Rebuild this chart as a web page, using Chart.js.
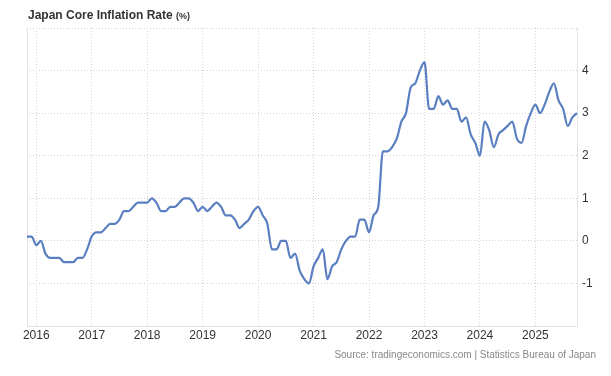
<!DOCTYPE html>
<html>
<head>
<meta charset="utf-8">
<script src="https://cdn.jsdelivr.net/npm/chart.js@4.4.1/dist/chart.umd.min.js"></script>
<style>
  html,body{margin:0;padding:0;background:#fff;}
  #wrap{position:relative;width:611px;height:376px;font-family:"Liberation Sans",Arial,sans-serif;}
  #title{position:absolute;left:28px;top:8px;font-size:12px;font-weight:bold;color:#333;white-space:nowrap;}
  #title span{font-size:9px;}
  #src{position:absolute;right:15px;top:349px;font-size:10px;color:#888;white-space:nowrap;}
  canvas{position:absolute;left:0;top:0;}
</style>
</head>
<body>
<div id="wrap">
  <canvas id="chart" width="611" height="376"></canvas>
  <div id="title">Japan Core Inflation Rate <span>(%)</span></div>
  <div id="src">Source: tradingeconomics.com | Statistics Bureau of Japan</div>
</div>
<script>
// monthly, Nov 2015 .. Oct 2025
const startYear = 2015, startMonth = 11;
const coreInflation = [
  0.1, 0.1,                                                         // 2015 Nov-Dec
  -0.1, 0.0, -0.3, -0.4, -0.4, -0.4, -0.5, -0.5, -0.5, -0.4, -0.4, -0.2, // 2016
  0.1, 0.2, 0.2, 0.3, 0.4, 0.4, 0.5, 0.7, 0.7, 0.8, 0.9, 0.9,       // 2017
  0.9, 1.0, 0.9, 0.7, 0.7, 0.8, 0.8, 0.9, 1.0, 1.0, 0.9, 0.7,       // 2018
  0.8, 0.7, 0.8, 0.9, 0.8, 0.6, 0.6, 0.5, 0.3, 0.4, 0.5, 0.7,       // 2019
  0.8, 0.6, 0.4, -0.2, -0.2, 0.0, 0.0, -0.4, -0.3, -0.7, -0.9, -1.0, // 2020
  -0.6, -0.4, -0.2, -0.9, -0.6, -0.5, -0.2, 0.0, 0.1, 0.1, 0.5, 0.5, // 2021
  0.2, 0.6, 0.8, 2.1, 2.1, 2.2, 2.4, 2.8, 3.0, 3.6, 3.7, 4.0,       // 2022
  4.2, 3.1, 3.1, 3.4, 3.2, 3.3, 3.1, 3.1, 2.8, 2.9, 2.5, 2.3,       // 2023
  2.0, 2.8, 2.6, 2.2, 2.5, 2.6, 2.7, 2.8, 2.4, 2.3, 2.7, 3.0,       // 2024
  3.2, 3.0, 3.2, 3.5, 3.7, 3.3, 3.1, 2.7, 2.9, 3.0                  // 2025 Jan-Oct
];
const months = coreInflation.map((v, i) => {
  const m = (startMonth - 1 + i) % 12 + 1;
  const y = startYear + Math.floor((startMonth - 1 + i) / 12);
  return y + '-' + String(m).padStart(2, '0');
});
const yTicks = [-1, 0, 1, 2, 3, 4];

const gridColor = '#d4d4d4';
const axisColor = '#e3e3e3';
const tickFont = { family:'"Liberation Sans", Arial, sans-serif', size:12 };

new Chart(document.getElementById('chart'), {
  type: 'line',
  data: {
    labels: months,
    datasets: [{
      data: coreInflation,
      borderColor: '#5a7fc0',
      borderWidth: 2.2,
      pointRadius: 0,
      fill: false,
      cubicInterpolationMode: 'monotone'
    }]
  },
  options: {
    responsive: false,
    devicePixelRatio: 1,
    animation: false,
    layout: { padding: { left: 27, top: 28, right: 0, bottom: 0 } },
    plugins: { legend: { display:false }, tooltip: { enabled:false } },
    scales: {
      x: {
        type: 'category',
        offset: false,
        grid: { color: gridColor, drawTicks: false },
        border: { display: true, color: axisColor, dash: [1, 2] },
        ticks: {
          autoSkip: false, maxRotation: 0, padding: 2,
          color: '#333', font: tickFont,
          callback: function(v){
            const lab = this.getLabelForValue(v);
            return lab.endsWith('-01') ? lab.slice(0, 4) : null;
          }
        },
        afterFit: s => { s.height = 50; }
      },
      y: {
        position: 'right',
        min: -2, max: 5,
        grid: { color: gridColor, drawTicks: false },
        border: { display: true, color: axisColor, dash: [1, 2] },
        ticks: {
          stepSize: 1, padding: 5, color: '#333', font: tickFont,
          callback: v => yTicks.includes(v) ? String(v) : (v === -2 ? null : '')
        },
        afterFit: s => { s.width = 34; }
      },
      yl: {
        position: 'left',
        min: -2, max: 5,
        grid: { display: false },
        border: { display: true, color: axisColor },
        ticks: { display: false },
        afterFit: s => { s.width = 0; }
      }
    }
  }
});
</script>
</body>
</html>
